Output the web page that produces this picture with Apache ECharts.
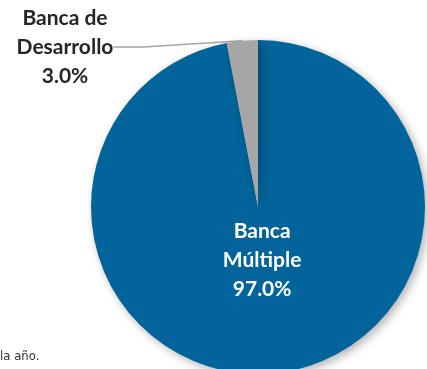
<!DOCTYPE html>
<html>
<head>
<meta charset="utf-8">
<script src="https://cdn.jsdelivr.net/npm/echarts@6/dist/echarts.min.js"></script>
<style>
  html, body { margin: 0; padding: 0; background: #fff; }
  #chart { width: 427px; height: 369px; }
</style>
</head>
<body>
<div id="chart"></div>
<script>
// datos del gráfico
const categories = ['Banca\nMúltiple', 'Banca de\nDesarrollo']
const values = [97.0, 3.0]
const colors = ['#02649A', '#A6A6A6']
const footnote = 'la año.'

const chart = echarts.init(document.getElementById('chart'))

const data = categories.map((name, i) => {
  const item = {
    name: name,
    value: values[i],
    itemStyle: { color: colors[i] }
  }
  if (i === 0) {
    // etiqueta dentro de la rebanada grande
    item.label = {
      position: 'inside',
      offset: [-4, -33],
      color: '#fff'
    }
    item.labelLine = { show: false }
  } else {
    item.label = {
      position: 'outside',
      color: '#262626'
    }
  }
  return item
})

chart.setOption({
  animation: false,
  graphic: [{
    type: 'text',
    left: 0,
    top: 350,
    style: {
      text: footnote,
      fontFamily: 'DejaVu Sans Condensed',
      fontSize: 13,
      fill: '#333'
    }
  }],
  series: [{
    type: 'pie',
    center: [258, 207],
    radius: 167,
    startAngle: 90,
    clockwise: true,
    data: data,
    itemStyle: {
      shadowBlur: 10,
      shadowOffsetX: 3,
      shadowOffsetY: 3,
      shadowColor: 'rgba(0,0,0,0.3)'
    },
    label: {
      show: true,
      fontFamily: 'Lato',
      fontWeight: 'bold',
      fontSize: 21,
      lineHeight: 29,
      align: 'center',
      formatter: (p) => p.name + '\n' + p.value.toFixed(1) + '%'
    },
    labelLine: {
      show: true,
      length: 4,
      lineStyle: { color: '#A6A6A6', width: 1.5 }
    },
    labelLayout: (params) => {
      if (params.dataIndex === 1) {
        return { x: 65, y: 47, align: 'center', verticalAlign: 'middle' }
      }
    }
  }]
})
</script>
</body>
</html>
